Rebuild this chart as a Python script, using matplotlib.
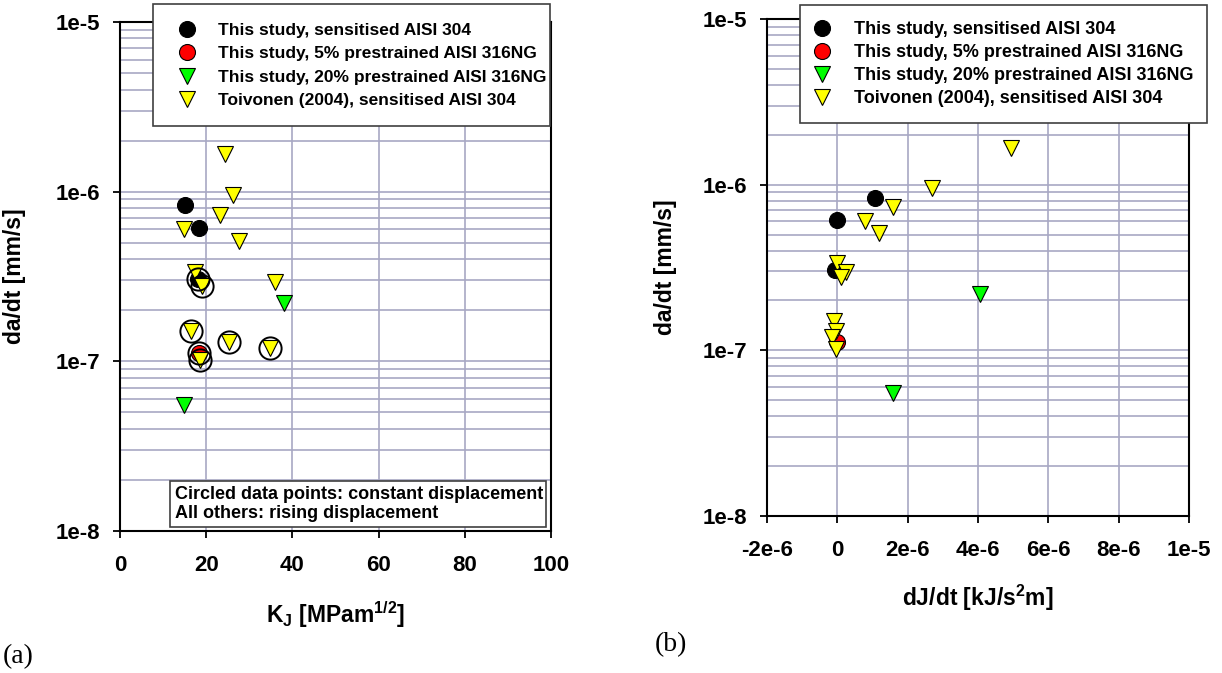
import numpy as np
import matplotlib
matplotlib.use("Agg")
import matplotlib.pyplot as plt
from matplotlib.patches import Rectangle
from matplotlib.ticker import FixedLocator, LogLocator, NullFormatter

plt.rcParams['font.family'] = ['Liberation Sans', 'DejaVu Sans']
plt.rcParams['mathtext.fontset'] = 'custom'
plt.rcParams['mathtext.rm'] = 'Liberation Sans:bold'
plt.rcParams['mathtext.bf'] = 'Liberation Sans:bold'

# Данные: скорость роста трещины da/dt [mm/s]
black_rate = [8.3e-7, 6.1e-7, 3.05e-7]
black_kj = [15.0, 18.3, 18.0]
black_djdt = [1.08e-6, 0.0, -0.08e-6]
black_circled = [False, False, True]

red_rate = [1.12e-7]
red_kj = [18.3]
red_djdt = [0.0]
red_circled = [True]

green_rate = [2.2e-7, 5.5e-8]
green_kj = [38.0, 14.8]
green_djdt = [4.06e-6, 1.58e-6]
green_circled = [False, False]

yellow_rate = [1.67e-6, 9.6e-7, 7.3e-7, 6.0e-7, 5.1e-7, 3.35e-7,
               2.95e-7, 2.78e-7, 1.5e-7, 1.3e-7, 1.2e-7, 1.02e-7]
yellow_kj = [24.3, 26.2, 23.3, 14.8, 27.5, 17.4,
             35.9, 19.0, 16.4, 25.3, 34.9, 18.5]
yellow_djdt = [4.93e-6, 2.68e-6, 1.58e-6, 0.8e-6, 1.18e-6, 0.0,
               0.25e-6, 0.1e-6, -0.1e-6, -0.05e-6, -0.15e-6, -0.05e-6]
yellow_circled = [False, False, False, False, False, False,
                  False, True, True, True, True, True]

labels = ['This study, sensitised AISI 304',
          'This study, 5% prestrained AISI 316NG',
          'This study, 20% prestrained AISI 316NG',
          'Toivonen (2004), sensitised AISI 304']

y_ticks = [1e-8, 1e-7, 1e-6, 1e-5]
y_ticklabels = ['1e-8', '1e-7', '1e-6', '1e-5']
kj_ticks = [0, 20, 40, 60, 80, 100]
djdt_ticks = [-2e-6, 0, 2e-6, 4e-6, 6e-6, 8e-6, 1e-5]
djdt_ticklabels = ['-2e-6', '0', '2e-6', '4e-6', '6e-6', '8e-6', '1e-5']

grid_color = '#a8a8c4'
W, H = 1222, 673

fig = plt.figure(figsize=(12.22, 6.73), dpi=100)
ax1 = fig.add_axes([120 / W, 1 - 531 / H, (551 - 120) / W, (531 - 22) / H])
ax2 = fig.add_axes([767 / W, 1 - 516 / H, (1189 - 767) / W, (516 - 19) / H])


def px_box(ax, x0, y0, x1, y1):
    # рамка в пикселях исходной картинки (y сверху вниз)
    r = Rectangle((x0 / W, 1 - y1 / H), (x1 - x0) / W, (y1 - y0) / H,
                  transform=fig.transFigure, facecolor='white',
                  edgecolor='#404040', linewidth=1.2, clip_on=False, zorder=9)
    ax.add_artist(r)


def series(ax, xs, ys, marker, color, ms, label):
    ax.plot(xs, ys, linestyle='none', marker=marker, markersize=ms,
            markerfacecolor=color, markeredgecolor='black',
            markeredgewidth=0.8, label=label, zorder=3)


def setup(ax, xticks, xticklabels, xlim, xpad):
    ax.set_yscale('log')
    ax.set_ylim(1e-8, 1e-5)
    ax.set_xlim(*xlim)
    ax.xaxis.set_major_locator(FixedLocator(xticks))
    ax.set_xticklabels(xticklabels, fontsize=16, fontweight='bold')
    ax.yaxis.set_major_locator(FixedLocator(y_ticks))
    ax.set_yticklabels(y_ticklabels, fontsize=16, fontweight='bold')
    ax.yaxis.set_minor_locator(LogLocator(base=10, subs=np.arange(2, 10)))
    ax.yaxis.set_minor_formatter(NullFormatter())
    ax.grid(True, which='major', axis='x', color=grid_color, lw=1.2)
    ax.grid(True, which='both', axis='y', color=grid_color, lw=1.2)
    ax.set_axisbelow(True)
    ax.tick_params(which='major', direction='out', length=5, width=1.3)
    ax.tick_params(axis='x', which='major', pad=xpad)
    ax.tick_params(axis='y', which='major', pad=9)
    ax.tick_params(which='minor', length=0)
    for sp in ax.spines.values():
        sp.set_linewidth(1.5)
        sp.set_color('black')


def add_legend(ax, x_left, y_top, size, spacing):
    leg = ax.legend(loc='upper left', bbox_to_anchor=(x_left / W, 1 - y_top / H),
                    bbox_transform=fig.transFigure, borderaxespad=0,
                    prop={'size': size, 'weight': 'bold'}, borderpad=0,
                    handlelength=2.0, handletextpad=0.75, labelspacing=spacing,
                    frameon=False)
    leg.set_zorder(10)
    return leg


# Панель (a): da/dt от K_J
setup(ax1, kj_ticks, [str(t) for t in kj_ticks], (0, 100), 12.5)
series(ax1, black_kj, black_rate, 'o', 'black', 11.5, labels[0])
series(ax1, red_kj, red_rate, 'o', 'red', 11.5, labels[1])
series(ax1, green_kj, green_rate, 'v', '#00ff00', 11, labels[2])
series(ax1, yellow_kj, yellow_rate, 'v', '#ffff00', 11, labels[3])

circ_x, circ_y = [], []
for xs, ys, flags in [(black_kj, black_rate, black_circled),
                      (red_kj, red_rate, red_circled),
                      (green_kj, green_rate, green_circled),
                      (yellow_kj, yellow_rate, yellow_circled)]:
    for x, y, f in zip(xs, ys, flags):
        if f:
            circ_x.append(x)
            circ_y.append(y)
ax1.plot(circ_x, circ_y, linestyle='none', marker='o', markersize=16,
         markerfacecolor='none', markeredgecolor='black',
         markeredgewidth=1.4, zorder=4)

ax1.set_ylabel('da/dt [mm/s]', fontsize=16.5, fontweight='bold')
ax1.yaxis.set_label_coords(-0.218, 0.5)
ax1.set_xlabel(r'K$_\mathregular{J}$ [MPam$^\mathregular{1/2}$]',
               fontsize=16.5, fontweight='bold')
ax1.xaxis.set_label_coords(0.5, -0.135)

px_box(ax1, 153, 4, 550, 126)
add_legend(ax1, 170, 23, 12.5, 0.47)

px_box(ax1, 170, 481, 546, 527)
ax1.text(175 / W, 1 - 504 / H,
         'Circled data points: constant displacement\nAll others: rising displacement',
         transform=fig.transFigure, fontsize=13, fontweight='bold',
         va='center', ha='left', linespacing=1.1, zorder=10)

# Панель (b): da/dt от dJ/dt
setup(ax2, djdt_ticks, djdt_ticklabels, (-2e-6, 1e-5), 12)
series(ax2, black_djdt, black_rate, 'o', 'black', 11.5, labels[0])
series(ax2, red_djdt, red_rate, 'o', 'red', 11.5, labels[1])
series(ax2, green_djdt, green_rate, 'v', '#00ff00', 11, labels[2])
series(ax2, yellow_djdt, yellow_rate, 'v', '#ffff00', 11, labels[3])

ax2.set_ylabel('da/dt [mm/s]', fontsize=16.5, fontweight='bold')
ax2.yaxis.set_label_coords(-0.213, 0.5)
ax2.set_xlabel(r'dJ/dt [kJ/s$^\mathregular{2}$m]', fontsize=16.5,
               fontweight='bold')
ax2.xaxis.set_label_coords(0.5, -0.135)

px_box(ax2, 800, 5, 1207, 123)
add_legend(ax2, 804, 21, 13, 0.33)

fig.text(3 / W, 1 - 657 / H, '(a)', family='Liberation Serif',
         fontsize=20, va='center', ha='left')
fig.text(655 / W, 1 - 645 / H, '(b)', family='Liberation Serif',
         fontsize=20, va='center', ha='left')

fig.savefig('out.png', dpi=100)
